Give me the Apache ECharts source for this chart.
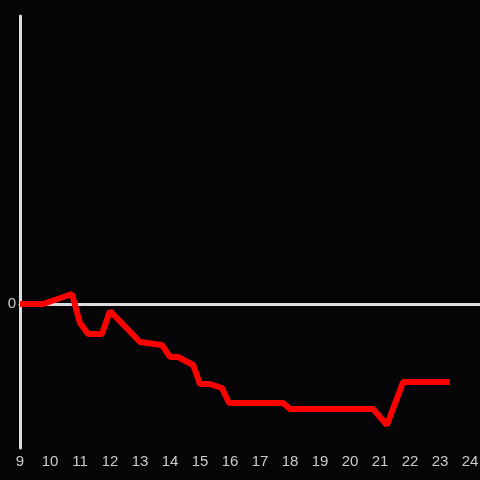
<!DOCTYPE html>
<html>
<head>
<meta charset="utf-8">
<script src="https://cdn.jsdelivr.net/npm/echarts@6/dist/echarts.min.js"></script>
<style>
html,body{margin:0;padding:0;background:#050407;}
#chart{width:480px;height:480px;}
</style>
</head>
<body>
<div id="chart"></div>
<script>
const hours = [9.0, 9.77, 10.73, 11.0, 11.27, 11.73, 12.0, 13.0, 13.73, 14.0, 14.27, 14.77, 15.0, 15.33, 15.73, 15.97, 17.77, 18.0, 20.77, 21.23, 21.77, 23.33];
const values = [0, 0, 10, -19, -30, -30, -7, -38, -41, -53, -53, -61, -80, -80, -84, -99, -99, -105, -105, -121, -78, -78];
const yTickLabels = ['0'];

const chart = echarts.init(document.getElementById('chart'), null, {renderer: 'canvas'});
const pts = hours.map((h, i) => [h, values[i]]);
chart.setOption({
  backgroundColor: '#050407',
  animation: false,
  grid: {left: 20, right: 0, top: 16, bottom: 32, containLabel: false, outerBoundsMode: 'none'},
  xAxis: [{
    type: 'value', min: 9, max: 24.3333, interval: 1,
    axisLine: {show: false, onZero: false},
    axisTick: {show: false},
    splitLine: {show: false},
    axisLabel: {
      color: '#cccccc', fontSize: 15, margin: 6, fontFamily: 'Liberation Sans, Arial, sans-serif',
      formatter: v => (Math.abs(v - Math.round(v)) < 1e-6 ? String(Math.round(v)) : '')
    }
  }, {
    type: 'value', min: 9, max: 24.3333, interval: 1, position: 'bottom',
    axisLine: {show: true, onZero: true, lineStyle: {color: '#dddddd', width: 3}},
    axisTick: {show: false},
    splitLine: {show: false},
    axisLabel: {show: false}
  }],
  yAxis: {
    type: 'value', min: -144, max: 288, interval: 144,
    axisLine: {show: true, onZero: false, lineStyle: {color: '#dddddd', width: 3}},
    axisTick: {show: false},
    splitLine: {show: false},
    axisLabel: {
      color: '#cccccc', fontSize: 15, margin: 4, padding: [3, 0, 0, 0], fontFamily: 'Liberation Sans, Arial, sans-serif',
      formatter: v => (yTickLabels.indexOf(String(v)) >= 0 ? String(v) : '')
    }
  },
  series: [{
    type: 'line',
    xAxisIndex: 0,
    data: pts,
    showSymbol: false,
    z: 5,
    lineStyle: {color: '#ff0000', width: 6}
  }]
});
</script>
</body>
</html>
